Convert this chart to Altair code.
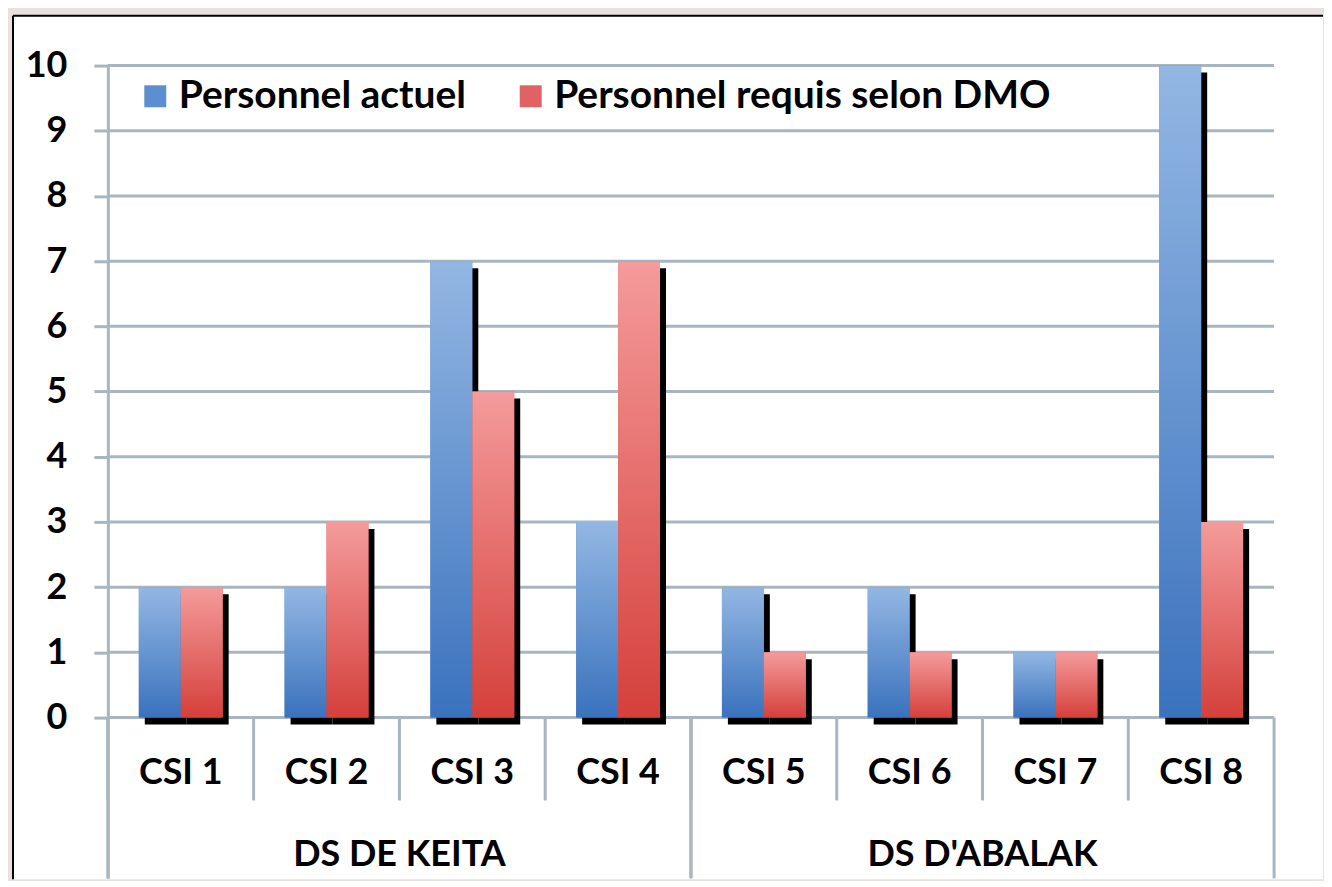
import altair as alt
import pandas as pd

csi = ["CSI 1", "CSI 2", "CSI 3", "CSI 4", "CSI 5", "CSI 6", "CSI 7", "CSI 8"]
groups = ["DS DE KEITA", "DS DE KEITA", "DS DE KEITA", "DS DE KEITA",
          "DS D'ABALAK", "DS D'ABALAK", "DS D'ABALAK", "DS D'ABALAK"]
group_names = ["DS DE KEITA", "DS D'ABALAK"]
series = ["Personnel actuel", "Personnel requis selon DMO"]
actuel = [2, 2, 7, 3, 2, 2, 1, 10]
requis = [2, 3, 5, 7, 1, 1, 1, 3]
y_ticks = [0, 1, 2, 3, 4, 5, 6, 7, 8, 9, 10]

rows = []
for i, c in enumerate(csi):
    rows.append({"csi": c, "group": groups[i], "series": series[0], "value": actuel[i]})
    rows.append({"csi": c, "group": groups[i], "series": series[1], "value": requis[i]})
df = pd.DataFrame(rows)
csi_df = pd.DataFrame({"csi": csi})
grp_df = pd.DataFrame({"group": group_names})
tick_df = pd.DataFrame({"value": y_ticks})
one = pd.DataFrame({"a": [0]})

W, H = 1168, 814
Z = 653  # pixel row of the zero line inside the plot
FONT = "Lato"
GRID = "#a8b6c2"
BLUE = "#5b8fd0"
RED = "#e06262"

blue_grad = {"gradient": "linear", "x1": 0, "x2": 0, "y1": 0, "y2": 1,
             "stops": [{"offset": 0, "color": "#93b7e3"}, {"offset": 1, "color": "#3a72bd"}]}
red_grad = {"gradient": "linear", "x1": 0, "x2": 0, "y1": 0, "y2": 1,
            "stops": [{"offset": 0, "color": "#f49b9b"}, {"offset": 1, "color": "#d5403b"}]}

band = alt.Scale(domain=csi, paddingInner=0, paddingOuter=0)
xs = alt.X("csi:N", scale=band, axis=None)
xo = alt.XOffset("series:N", scale=alt.Scale(domain=series, range=[31, 115], paddingInner=0, paddingOuter=0))
xo_sh = alt.XOffset("series:N", scale=alt.Scale(domain=series, range=[37, 121], paddingInner=0, paddingOuter=0))
yscale = alt.Scale(domain=[-2.466, 10], nice=False, zero=False)
ys = alt.Y("value:Q", scale=yscale,
           axis=alt.Axis(values=y_ticks, format="d", title=None, grid=False, zindex=1,
                         domainColor=GRID, domainWidth=3, tickColor=GRID, tickWidth=3, tickSize=14,
                         labelFont=FONT, labelFontSize=36, labelFontWeight="bold", labelColor="black",
                         labelPadding=27))

bg = alt.Chart(one).mark_rect(fill="white").encode(
    x=alt.value(-95), x2=alt.value(W + 49), y=alt.value(-50), y2=alt.value(H + 1))
border_top = alt.Chart(one).mark_rule(color="black", strokeWidth=2).encode(
    x=alt.value(-95), x2=alt.value(W + 49), y=alt.value(-50))
border_left = alt.Chart(one).mark_rule(color="black", strokeWidth=2).encode(
    x=alt.value(-95), y=alt.value(-50), y2=alt.value(H + 1))

gridlines = alt.Chart(tick_df).mark_rule(color=GRID, strokeWidth=3).encode(
    y=alt.Y("value:Q", scale=yscale), x=alt.value(0), x2=alt.value(W))

base = alt.Chart(df)
shadow = base.mark_bar(color="black", yOffset=7, y2Offset=5).encode(x=xs, xOffset=xo_sh, y=ys)
flat = base.mark_bar().encode(
    x=xs, xOffset=xo, y=ys,
    color=alt.Color("series:N", scale=alt.Scale(domain=series, range=[BLUE, RED]),
                    legend=alt.Legend(orient="none", legendX=28, legendY=11, direction="horizontal",
                                      title=None, symbolType="square", symbolSize=484,
                                      symbolStrokeWidth=0, labelFont=FONT, labelFontSize=39,
                                      labelFontWeight="bold", labelColor="black", labelLimit=800,
                                      labelOffset=4, columnPadding=45, padding=0)))
blue = base.transform_filter(alt.datum.series == series[0]).mark_bar(color=blue_grad).encode(
    x=xs, xOffset=xo, y=ys)
red = base.transform_filter(alt.datum.series == series[1]).mark_bar(color=red_grad).encode(
    x=xs, xOffset=xo, y=ys)

csi_rules = alt.Chart(csi_df).mark_rule(color=GRID, strokeWidth=3).encode(
    x=alt.X("csi:N", bandPosition=0, scale=band, axis=None),
    y=alt.value(Z), y2=alt.value(Z + 83))
csi_text = alt.Chart(csi_df).mark_text(font=FONT, fontSize=36, fontWeight="bold", color="black",
                                       baseline="middle").encode(
    x=xs, y=alt.value(Z + 56), text="csi:N")

gband = alt.Scale(domain=group_names, paddingInner=0, paddingOuter=0)
grp_rules0 = alt.Chart(grp_df).mark_rule(color=GRID, strokeWidth=3).encode(
    x=alt.X("group:N", bandPosition=0, scale=gband, axis=None), y=alt.value(Z), y2=alt.value(H))
grp_rules1 = alt.Chart(grp_df).mark_rule(color=GRID, strokeWidth=3).encode(
    x=alt.X("group:N", bandPosition=1, scale=gband, axis=None), y=alt.value(Z), y2=alt.value(H))
grp_text = alt.Chart(grp_df).mark_text(font=FONT, fontSize=36, fontWeight="bold", color="black",
                                       baseline="middle").encode(
    x=alt.X("group:N", scale=gband, axis=None), y=alt.value(Z + 138), text="group:N")

chart = alt.layer(
    bg, border_top, border_left, gridlines, shadow, flat, blue, red,
    csi_rules, csi_text, grp_rules0, grp_rules1, grp_text
).resolve_scale(x="independent", xOffset="independent").properties(
    width=W, height=H, background="#e9e1de",
    padding={"left": 4, "top": 6, "right": 0, "bottom": 0}
).configure_view(stroke=None)

chart.save("out.html", embed_options={"renderer": "svg", "actions": False})
